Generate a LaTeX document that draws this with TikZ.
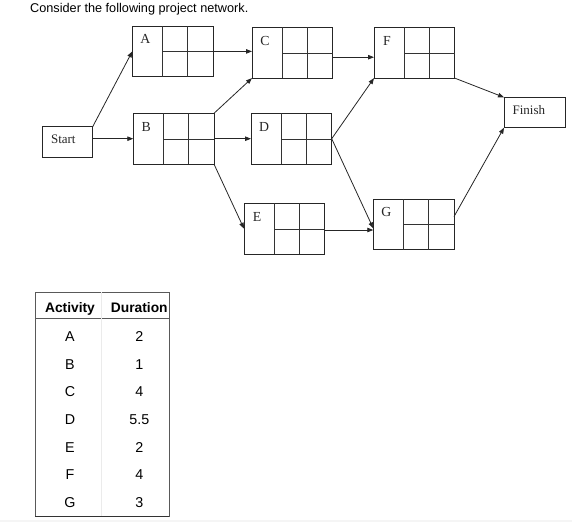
\documentclass[tikz,border=0pt]{standalone}
\usepackage{fontspec}
\setmainfont{Liberation Serif}
\newfontfamily\arialfont{Liberation Sans}
\usetikzlibrary{arrows.meta,calc}
\newcommand\actbox[4]{%
  \node[actnode] (#1) at (#2,#3) {};
  \draw[innerline] ($(#1.north west)+(30,0)$) -- ($(#1.south west)+(30,0)$);
  \draw[innerline] ($(#1.north west)+(55,0)$) -- ($(#1.south west)+(55,0)$);
  \draw[innerline] ($(#1.north west)+(30,25.7)$) -- ($(#1.north east)+(0,25.7)$);
  \node[boxlbl] (#1-l) at ($(#1.north west)+(13,17.8)$) {#4};
}
\begin{document}
\begin{tikzpicture}[x=1pt,y=-1pt,
  actnode/.style={draw=black!85, line width=0.9pt, minimum width=80.7pt, minimum height=50.8pt, anchor=north west, inner sep=0pt, outer sep=0pt},
  innerline/.style={draw=black!80, line width=0.9pt},
  endnode/.style={draw=black!85, line width=0.9pt, anchor=north west, inner sep=0pt, outer sep=0pt},
  boxlbl/.style={anchor=base, inner sep=0pt, text=black!85, font=\fontsize{13.8}{15}\selectfont},
  endlbl/.style={anchor=base, inner sep=0pt, text=black!85, font=\fontsize{13}{15}\selectfont},
  conn/.style={draw=black!85, line width=0.8pt, -{Triangle[length=6pt,width=4.5pt]}},
  tabtxt/.style={anchor=base, inner sep=0pt, font=\arialfont\fontsize{14.3}{16}\selectfont},
  tabhdr/.style={anchor=base, inner sep=0pt, font=\arialfont\bfseries\fontsize{13.8}{16}\selectfont},
]
\useasboundingbox (0,0) rectangle (572,522);
\fill[black!4] (0,519.5) rectangle (572,522);

\node[anchor=base west, inner sep=0pt, font=\arialfont\fontsize{12.7}{15}\selectfont] (title) at (30,12.7) {Consider the following project network.};

% start / finish
\node[endnode, minimum width=50.7pt, minimum height=30.6pt] (start) at (42,126.7) {};
\node[endlbl] (start-l) at (63.3,143.6) {Start};
\node[endnode, minimum width=61pt, minimum height=30.4pt] (finish) at (504,97.3) {};
\node[endlbl] (finish-l) at (528.8,114.3) {Finish};

% activity boxes
\actbox{A}{132.3}{26}{A}
\actbox{C}{252}{27.3}{C}
\actbox{F}{374}{27.3}{F}
\actbox{B}{133.3}{113.3}{B}
\actbox{D}{251}{113.3}{D}
\actbox{E}{244}{203.3}{E}
\actbox{G}{373.3}{199}{G}

% connectors
\draw[conn] (start.north east) -- (A.west);
\draw[conn] (start.east |- B.west) -- (B.west);
\draw[conn] (A.east) -- (A.east -| C.west);
\draw[conn] (B.north east) -- (C.south west);
\draw[conn] (B.east) -- (B.east -| D.west);
\draw[conn] (B.south east) -- (E.west);
\draw[conn] ([yshift=-4.5pt]C.east) -- ([yshift=-4.5pt]C.east -| F.west);
\draw[conn] (D.east) -- (F.south west);
\draw[conn] (D.east) -- ([yshift=-4pt]G.west);
\draw[conn] ([yshift=-1.3pt]E.east) -- ([yshift=-1.3pt]E.east -| G.west);
\draw[conn] (F.south east) -- (finish.north west);
\draw[conn] ([yshift=7.8pt]G.east) -- (finish.south west);

% table
\node[draw=black!65, line width=0.9pt, minimum width=134pt, minimum height=224.4pt, anchor=north west, inner sep=0pt, outer sep=0pt] (tbl) at (35,292.3) {};
\draw[black!65, line width=0.9pt] ($(tbl.north west)+(0,26)$) -- ($(tbl.north east)+(0,26)$);
\draw[black!8, line width=0.5pt] ($(tbl.north west)+(66,0)$) -- ($(tbl.south west)+(66,0)$);
\draw[black!80, line width=1pt] (tbl.south west) -- (tbl.south east);
\node[tabhdr] (h1) at (70,312.3) {Activity};
\node[tabhdr] (h2) at (139.3,312.3) {Duration};
\foreach \a/\d [count=\i from 0] in {A/2,B/1,C/4,D/5.5,E/2,F/4,G/3} {
  \node[tabtxt] (act-\a) at (70,341.7+27.6*\i) {\a};
  \node[tabtxt] (dur-\a) at (139.3,341.7+27.6*\i) {\d};
}
\end{tikzpicture}
\end{document}
